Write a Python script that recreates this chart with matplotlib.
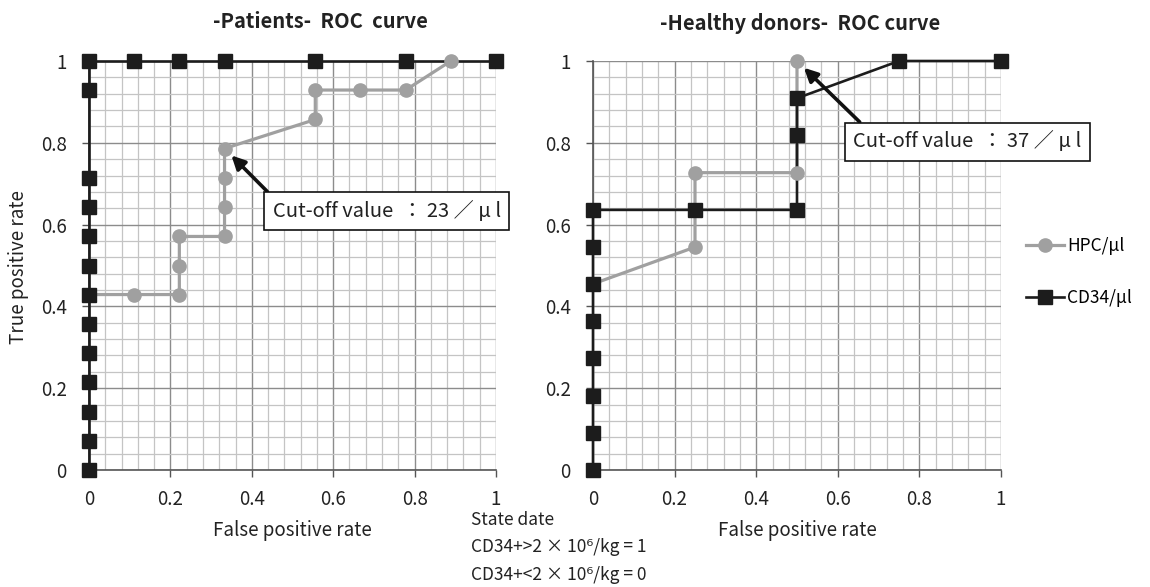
import numpy as np
import matplotlib
matplotlib.use('Agg')
import matplotlib.pyplot as plt
from matplotlib.lines import Line2D
from matplotlib.ticker import MultipleLocator, FuncFormatter

plt.rcParams['font.family'] = ['Noto Sans CJK JP', 'DejaVu Sans']

# Patients: ROC points (false positive rate, true positive rate)
PAT_HPC_FPR = [0, 0.111, 0.222, 0.222, 0.222, 0.333, 0.333, 0.333, 0.333,
               0.556, 0.556, 0.667, 0.778, 0.889]
PAT_HPC_TPR = [0.429, 0.429, 0.429, 0.500, 0.571, 0.571, 0.643, 0.714, 0.786,
               0.857, 0.929, 0.929, 0.929, 1.0]
PAT_CD34_FPR = [0, 0, 0, 0, 0, 0, 0, 0, 0, 0, 0, 0, 0,
                0.111, 0.222, 0.333, 0.556, 0.778, 1.0]
PAT_CD34_TPR = [0, 0.071, 0.143, 0.214, 0.286, 0.357, 0.429, 0.500, 0.571,
                0.643, 0.714, 0.929, 1.0, 1.0, 1.0, 1.0, 1.0, 1.0, 1.0]
PAT_CUTOFF = (0.333, 0.786)
PAT_CUTOFF_LABEL = 'Cut-off value  ： 23 ／ μ l'

# Healthy donors
HD_HPC_FPR = [0, 0.25, 0.25, 0.5, 0.5]
HD_HPC_TPR = [0.455, 0.545, 0.727, 0.727, 1.0]
HD_CD34_FPR = [0, 0, 0, 0, 0, 0, 0, 0, 0.25, 0.5, 0.5, 0.5, 0.75, 1.0]
HD_CD34_TPR = [0, 0.091, 0.182, 0.273, 0.364, 0.455, 0.545, 0.636, 0.636,
               0.636, 0.818, 0.909, 1.0, 1.0]
HD_CUTOFF = (0.5, 1.0)
HD_CUTOFF_LABEL = 'Cut-off value  ： 37 ／ μ l'

HPC_COLOR = '#a0a0a0'
CD34_COLOR = '#1c1c1c'

W, H = 1150, 587


def style_axes(ax):
    ax.set_xlim(0, 1)
    ax.set_ylim(0, 1)
    ax.xaxis.set_major_locator(MultipleLocator(0.2))
    ax.yaxis.set_major_locator(MultipleLocator(0.2))
    ax.xaxis.set_minor_locator(MultipleLocator(0.04))
    ax.yaxis.set_minor_locator(MultipleLocator(0.04))
    fmt = FuncFormatter(lambda v, p: f'{v:g}')
    ax.xaxis.set_major_formatter(fmt)
    ax.yaxis.set_major_formatter(fmt)
    ax.grid(which='minor', color='#c4c4c4', lw=0.9)
    ax.grid(which='major', color='#8c8c8c', lw=1.0)
    ax.set_axisbelow(True)
    for s in ('top', 'right'):
        ax.spines[s].set_visible(False)
    for s in ('left', 'bottom'):
        ax.spines[s].set_color('#555555')
        ax.spines[s].set_linewidth(1.2)
    ax.tick_params(which='major', length=5, width=1, color='#555555',
                   labelsize=13.5, labelcolor='#222222')
    ax.tick_params(axis='y', pad=11)
    ax.tick_params(axis='x', pad=9)
    ax.tick_params(which='minor', length=0)


def draw_roc(ax, hpc_x, hpc_y, cd_x, cd_y):
    # lines of both series first, markers on top (spreadsheet style)
    ax.plot(hpc_x, hpc_y, color=HPC_COLOR, lw=2.3, zorder=3, clip_on=False)
    ax.plot(cd_x, cd_y, color=CD34_COLOR, lw=1.9, zorder=4, clip_on=False)
    ax.plot(hpc_x, hpc_y, ls='none', marker='o', ms=9.5, color=HPC_COLOR,
            zorder=5, clip_on=False)
    ax.plot(cd_x, cd_y, ls='none', marker='s', ms=10, color=CD34_COLOR,
            zorder=6, clip_on=False)


def cutoff_note(ax, point, label, text_xy, relpos):
    ax.annotate(label, xy=point, xytext=text_xy, ha='center', va='center',
                fontsize=14.5, color='#222222',
                bbox=dict(boxstyle='square,pad=0.42', fc='white', ec='#111111', lw=1.2),
                arrowprops=dict(arrowstyle='-|>', color='#111111', lw=2.6,
                                mutation_scale=20, shrinkA=0, shrinkB=7,
                                relpos=relpos),
                annotation_clip=False, zorder=8)


fig = plt.figure(figsize=(W / 100, H / 100), dpi=100)
ax1 = fig.add_axes([89 / W, 1 - 470 / H, 407 / W, 409 / H])
ax2 = fig.add_axes([593 / W, 1 - 470 / H, 408 / W, 409 / H])

for ax in (ax1, ax2):
    style_axes(ax)

draw_roc(ax1, PAT_HPC_FPR, PAT_HPC_TPR, PAT_CD34_FPR, PAT_CD34_TPR)
draw_roc(ax2, HD_HPC_FPR, HD_HPC_TPR, HD_CD34_FPR, HD_CD34_TPR)

cutoff_note(ax1, PAT_CUTOFF, PAT_CUTOFF_LABEL, (0.732, 0.633), (0.015, 1.0))
cutoff_note(ax2, HD_CUTOFF, HD_CUTOFF_LABEL, (0.917, 0.803), (0.07, 1.0))

# axis labels
ax1.set_ylabel('True positive rate', fontsize=13.5, color='#222222', va='center')
ax1.yaxis.set_label_coords(-0.174, 0.496)
for ax in (ax1, ax2):
    ax.set_xlabel('False positive rate', fontsize=13.5, color='#222222', va='center')
    ax.xaxis.set_label_coords(0.5, -0.147)

# titles
fig.text(320 / W, 1 - 22 / H, '-Patients-  ROC  curve', ha='center', va='center',
         fontsize=14.5, fontweight='bold', color='#222222')
fig.text(800 / W, 1 - 23 / H, '-Healthy donors-  ROC curve', ha='center', va='center',
         fontsize=14.5, fontweight='bold', color='#222222')

# state note under the plots
notes = ['State date', 'CD34+>2 × 10⁶/kg = 1', 'CD34+<2 × 10⁶/kg = 0']
for k, line in enumerate(notes):
    fig.text(471 / W, 1 - (520 + 27.5 * k) / H, line, ha='left', va='center',
             fontsize=12.5, color='#222222')

handles = [
    Line2D([], [], color=HPC_COLOR, lw=2.3, marker='o', ms=9.5, label='HPC/μl'),
    Line2D([], [], color=CD34_COLOR, lw=1.9, marker='s', ms=10, label='CD34/μl'),
]
fig.legend(handles=handles, loc='center left', bbox_to_anchor=(1026 / W, 1 - 272 / H),
           frameon=False, fontsize=12.5, handlelength=2.2, handletextpad=0.15,
           labelspacing=2.0, borderpad=0, borderaxespad=0)

fig.savefig('out.png', dpi=100)
